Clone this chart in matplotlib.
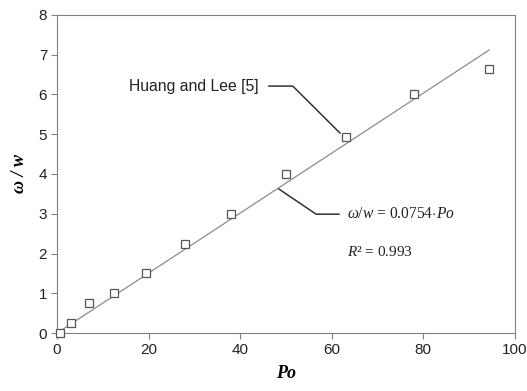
import numpy as np
import matplotlib.pyplot as plt

plt.rcParams['mathtext.fontset'] = 'custom'
plt.rcParams['mathtext.it'] = 'Liberation Serif:italic'
plt.rcParams['mathtext.rm'] = 'Liberation Serif'

po = [0.7, 3.0, 7.0, 12.5, 19.5, 28.0, 38.0, 50.0, 63.2, 78.0, 94.4]
ratio = [0.0, 0.25, 0.75, 1.0, 1.5, 2.25, 3.0, 4.0, 4.92, 6.02, 6.65]
slope = 0.0754
fit_x = [0.0, 94.4]

grey = '#808080'

fig = plt.figure(figsize=(5.27, 3.91), dpi=100)
ax = fig.add_axes([0.108, 0.148, 0.869, 0.814])

ax.plot(fit_x, [slope * x for x in fit_x], color='#8c8c8c', lw=0.9, zorder=2)
ax.plot(po, ratio, ls='none', marker='s', ms=6, mfc='white', mec='#555555', mew=0.9,
        zorder=3, clip_on=False)

# callout lines
ax.plot([46.3, 51.5, 61.8], [6.21, 6.21, 5.03], color='#333333', lw=1.1, clip_on=False)
ax.plot([48.5, 56.6, 61.6], [3.62, 2.99, 2.99], color='#333333', lw=1.1, clip_on=False)

ax.text(44.0, 6.2, 'Huang and Lee [5]', ha='right', va='center', fontsize=11.3,
        family='Liberation Sans', color='#222222')
ax.text(63.3, 2.99, r'$\omega/w$ = 0.0754$\cdot$$Po$', ha='left', va='center',
        fontsize=11.2, family='Liberation Serif', color='#222222')
ax.text(63.3, 2.04, r'$R$² = 0.993', ha='left', va='center',
        fontsize=11, family='Liberation Serif', color='#222222')

ax.set_xlim(0, 100)
ax.set_ylim(0, 8)
ax.set_xticks([0, 20, 40, 60, 80, 100])
ax.set_yticks(range(0, 9))
for s in ax.spines.values():
    s.set_color(grey)
ax.tick_params(direction='out', length=4, color=grey, labelsize=11, pad=3)
for lab in ax.get_xticklabels() + ax.get_yticklabels():
    lab.set_family('Liberation Sans')
    lab.set_color('#222222')

ax.set_xlabel('Po', fontsize=13, family='Liberation Serif', style='italic',
              weight='bold', labelpad=6)
ax.set_ylabel('ω / w', fontsize=13, family='Liberation Serif', style='italic',
              weight='bold', labelpad=8)

fig.savefig('out.png', dpi=100)
